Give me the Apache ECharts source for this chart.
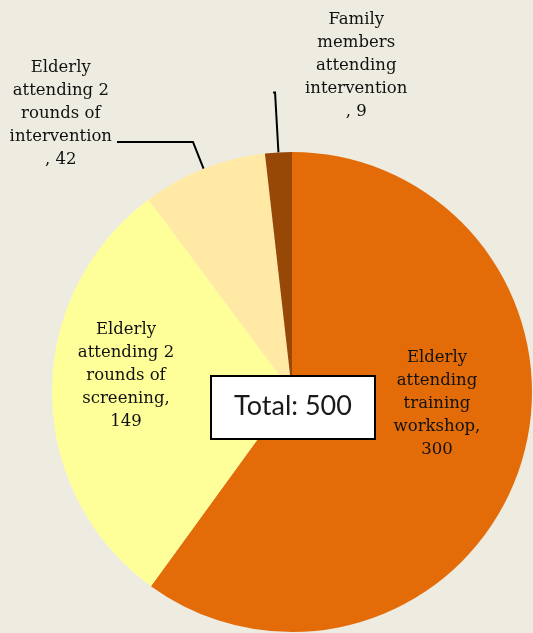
<!DOCTYPE html>
<html>
<head>
<meta charset="utf-8">
<script src="https://cdn.jsdelivr.net/npm/echarts@6/dist/echarts.min.js"></script>
<style>
    html,body{margin:0;padding:0;background:#EEECE1;}
    #main{width:533px;height:633px;}
</style>
</head>
<body>
<div id="main"></div>
<script>
// data
var categories = [
    'Elderly\nattending\ntraining\nworkshop',
    'Elderly\nattending 2\nrounds of\nscreening',
    'Elderly\nattending 2\nrounds of\nintervention',
    'Family\nmembers\nattending\nintervention'
];
var values = [300, 149, 42, 9];
var colors = ['#E36C09', '#FFFF99', '#FFE9A5', '#974806'];

var total = 0;
for (var i = 0; i < values.length; i++) { total += values[i]; }

// label placement per slice (inside for big ones, outside w/ leader for small)
var labelCfg = [
    {position: 'inside', padding: [0, 0, 52, 56]},
    {position: 'inside', padding: [0, 86, 34, 0]},
    {position: 'outside', padding: [0, 0, 56, 0]},
    {position: 'outside', padding: [0, 0, 53, 37]}
];
var lineCfg = [null, null, {length: 29, length2: 76}, {length: 60, length2: 2}];

function toRich(text) {
    return text.split('\n').map(function (s) { return '{c|' + s + '}'; }).join('\n');
}

var pieData = [];
for (var j = 0; j < values.length; j++) {
    var item = {
        name: categories[j],
        value: values[j],
        itemStyle: {color: colors[j]},
        label: labelCfg[j]
    };
    if (lineCfg[j]) item.labelLine = lineCfg[j];
    pieData.push(item);
}

var myChart = echarts.init(document.getElementById('main'));
var option = {
    backgroundColor: '#EEECE1',
    animation: false,
    series: [{
        type: 'pie',
        center: [292, 392],
        radius: 240,
        startAngle: 90,
        clockwise: true,
        avoidLabelOverlap: false,
        itemStyle: {borderWidth: 0},
        emphasis: {disabled: true},
        label: {
            show: true,
            alignTo: 'none',
            distanceToLabelLine: 5,
            formatter: function (p) {
                var txt = p.dataIndex < 2 ? p.name + ',\n' + p.value : p.name + '\n, ' + p.value;
                return toRich(txt);
            },
            rich: {
                c: {
                    align: 'center',
                    fontFamily: 'DejaVu Serif',
                    fontSize: 16.5,
                    lineHeight: 23,
                    color: '#111111'
                }
            }
        },
        labelLine: {
            show: true,
            smooth: false,
            lineStyle: {color: '#000', width: 2}
        },
        labelLayout: function (params) {
            if (params.dataIndex === 3) {
                return {align: 'left'};
            }
            return {};
        },
        data: pieData
    }],
    graphic: [{
        type: 'group',
        left: 210,
        top: 375,
        z: 100,
        children: [{
            type: 'rect',
            z: 100,
            shape: {x: 0, y: 0, width: 164, height: 63},
            style: {fill: '#FFFFFF', stroke: '#000', lineWidth: 2}
        }, {
            type: 'text',
            z: 101,
            x: 82,
            y: 30,
            style: {
                text: 'Total: ' + total,
                fontFamily: 'Lato',
                fontSize: 27,
                fill: '#1A1A1A',
                align: 'center',
                verticalAlign: 'middle'
            }
        }]
    }]
};
myChart.setOption(option);
</script>
</body>
</html>
